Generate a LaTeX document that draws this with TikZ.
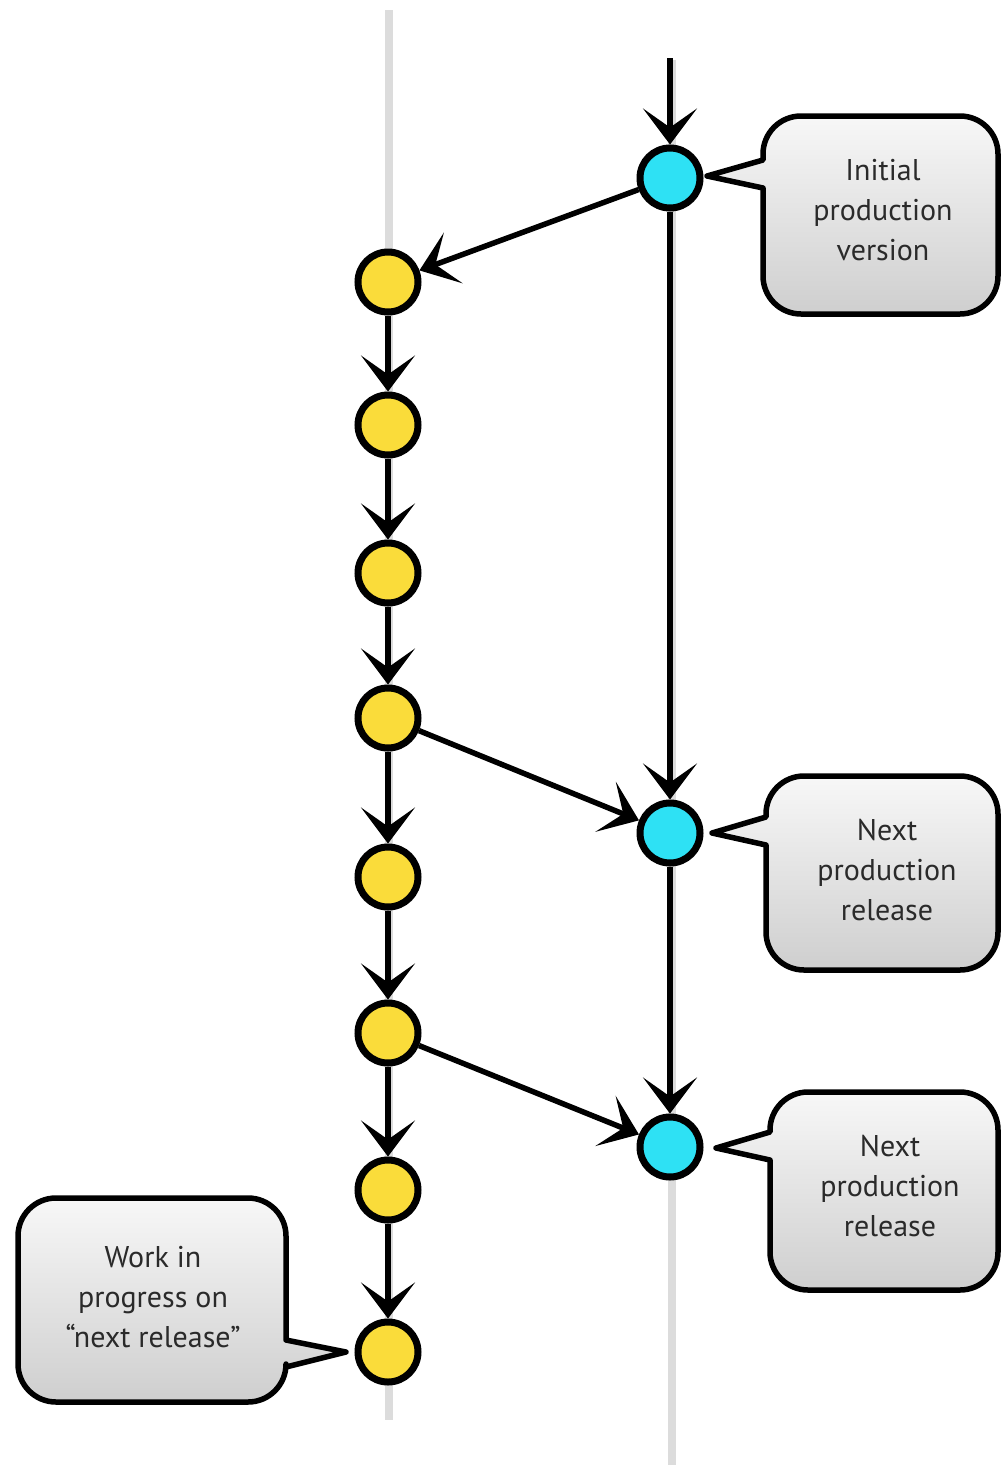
\documentclass[tikz,border=0pt]{standalone}
\usepackage{fontspec}
\setmainfont{PT Sans}
\usetikzlibrary{arrows.meta,shadings}
\definecolor{commitY}{HTML}{FADC3A}
\definecolor{commitC}{HTML}{2EE1F4}
\definecolor{lanegray}{HTML}{DCDCDC}
\definecolor{txt}{HTML}{2A2A2A}
\begin{document}
\begin{tikzpicture}[x=1pt,y=-1pt,
  commit/.style={circle,draw=black,line width=7pt,minimum size=60pt,inner sep=0pt},
  ycommit/.style={commit,fill=commitY},
  ccommit/.style={commit,fill=commitC},
  flow/.style={line width=5.5pt,-{Stealth[length=36pt,width=54pt,inset=19pt]}},
  lanestyle/.style={line width=8pt,draw=lanegray},
  bubble/.style={draw=black,line width=5.5pt,line join=round,top color=gray!6,bottom color=gray!38},
  bubtext/.style={align=center,text=txt,font=\fontsize{30}{40}\selectfont}]
\useasboundingbox (0,0) rectangle (1003,1470);
% lanes
\coordinate (l1a) at (389,10);  \coordinate (l1b) at (389,1420);
\coordinate (l2a) at (672,60);  \coordinate (l2b) at (672,1465);
\draw[lanestyle] (l1a) -- (l1b);
\draw[lanestyle] (l2a) -- (l2b);
% commits
\node[ycommit] (y1) at (388,282) {};
\node[ycommit] (y2) at (388,425) {};
\node[ycommit] (y3) at (388,573) {};
\node[ycommit] (y4) at (388,718) {};
\node[ycommit] (y5) at (388,877) {};
\node[ycommit] (y6) at (388,1033) {};
\node[ycommit] (y7) at (388,1190) {};
\node[ycommit] (y8) at (388,1352) {};
\node[ccommit] (c1) at (670,178) {};
\node[ccommit] (c2) at (670,833) {};
\node[ccommit] (c3) at (670,1147) {};
% connectors
\coordinate (in) at (670,58);
\draw[flow] (in) -- (c1);
\draw[flow] (c1) -- (y1);
\draw[flow] (y1) -- (y2);
\draw[flow] (y2) -- (y3);
\draw[flow] (y3) -- (y4);
\draw[flow] (y4) -- (y5);
\draw[flow] (y5) -- (y6);
\draw[flow] (y6) -- (y7);
\draw[flow] (y7) -- (y8);
\draw[flow] (c1) -- (c2);
\draw[flow] (c2) -- (c3);
\draw[flow] (y4) -- (c2);
\draw[flow] (y6) -- (c3);
% callouts
\coordinate (p1) at (707,176);
\draw[bubble] (p1) -- (763,188) [rounded corners=38pt] -- (763,314) -- (998,314) -- (998,116) -- (763,116) [sharp corners] -- (763,160) -- cycle;
\node[bubtext] (t1) at (883,210) {Initial\\production\\version};
\coordinate (p2) at (712,833);
\draw[bubble] (p2) -- (766,845) [rounded corners=38pt] -- (766,970) -- (998,970) -- (998,776) -- (766,776) [sharp corners] -- (766,817) -- cycle;
\node[bubtext] (t2) at (887,870) {Next\\production\\release};
\coordinate (p3) at (716,1148);
\draw[bubble] (p3) -- (770,1160) [rounded corners=38pt] -- (770,1290) -- (998,1290) -- (998,1092) -- (770,1092) [sharp corners] -- (770,1132) -- cycle;
\node[bubtext] (t3) at (890,1186) {Next\\production\\release};
\coordinate (p4) at (346,1352);
\draw[bubble] (p4) -- (286,1340) [rounded corners=38pt] -- (286,1198) -- (18,1198) -- (18,1402) -- (286,1402) [sharp corners] -- (286,1367) -- cycle;
\node[bubtext] (t4) at (153,1297) {Work in\\progress on\\“next release”};
\end{tikzpicture}
\end{document}
